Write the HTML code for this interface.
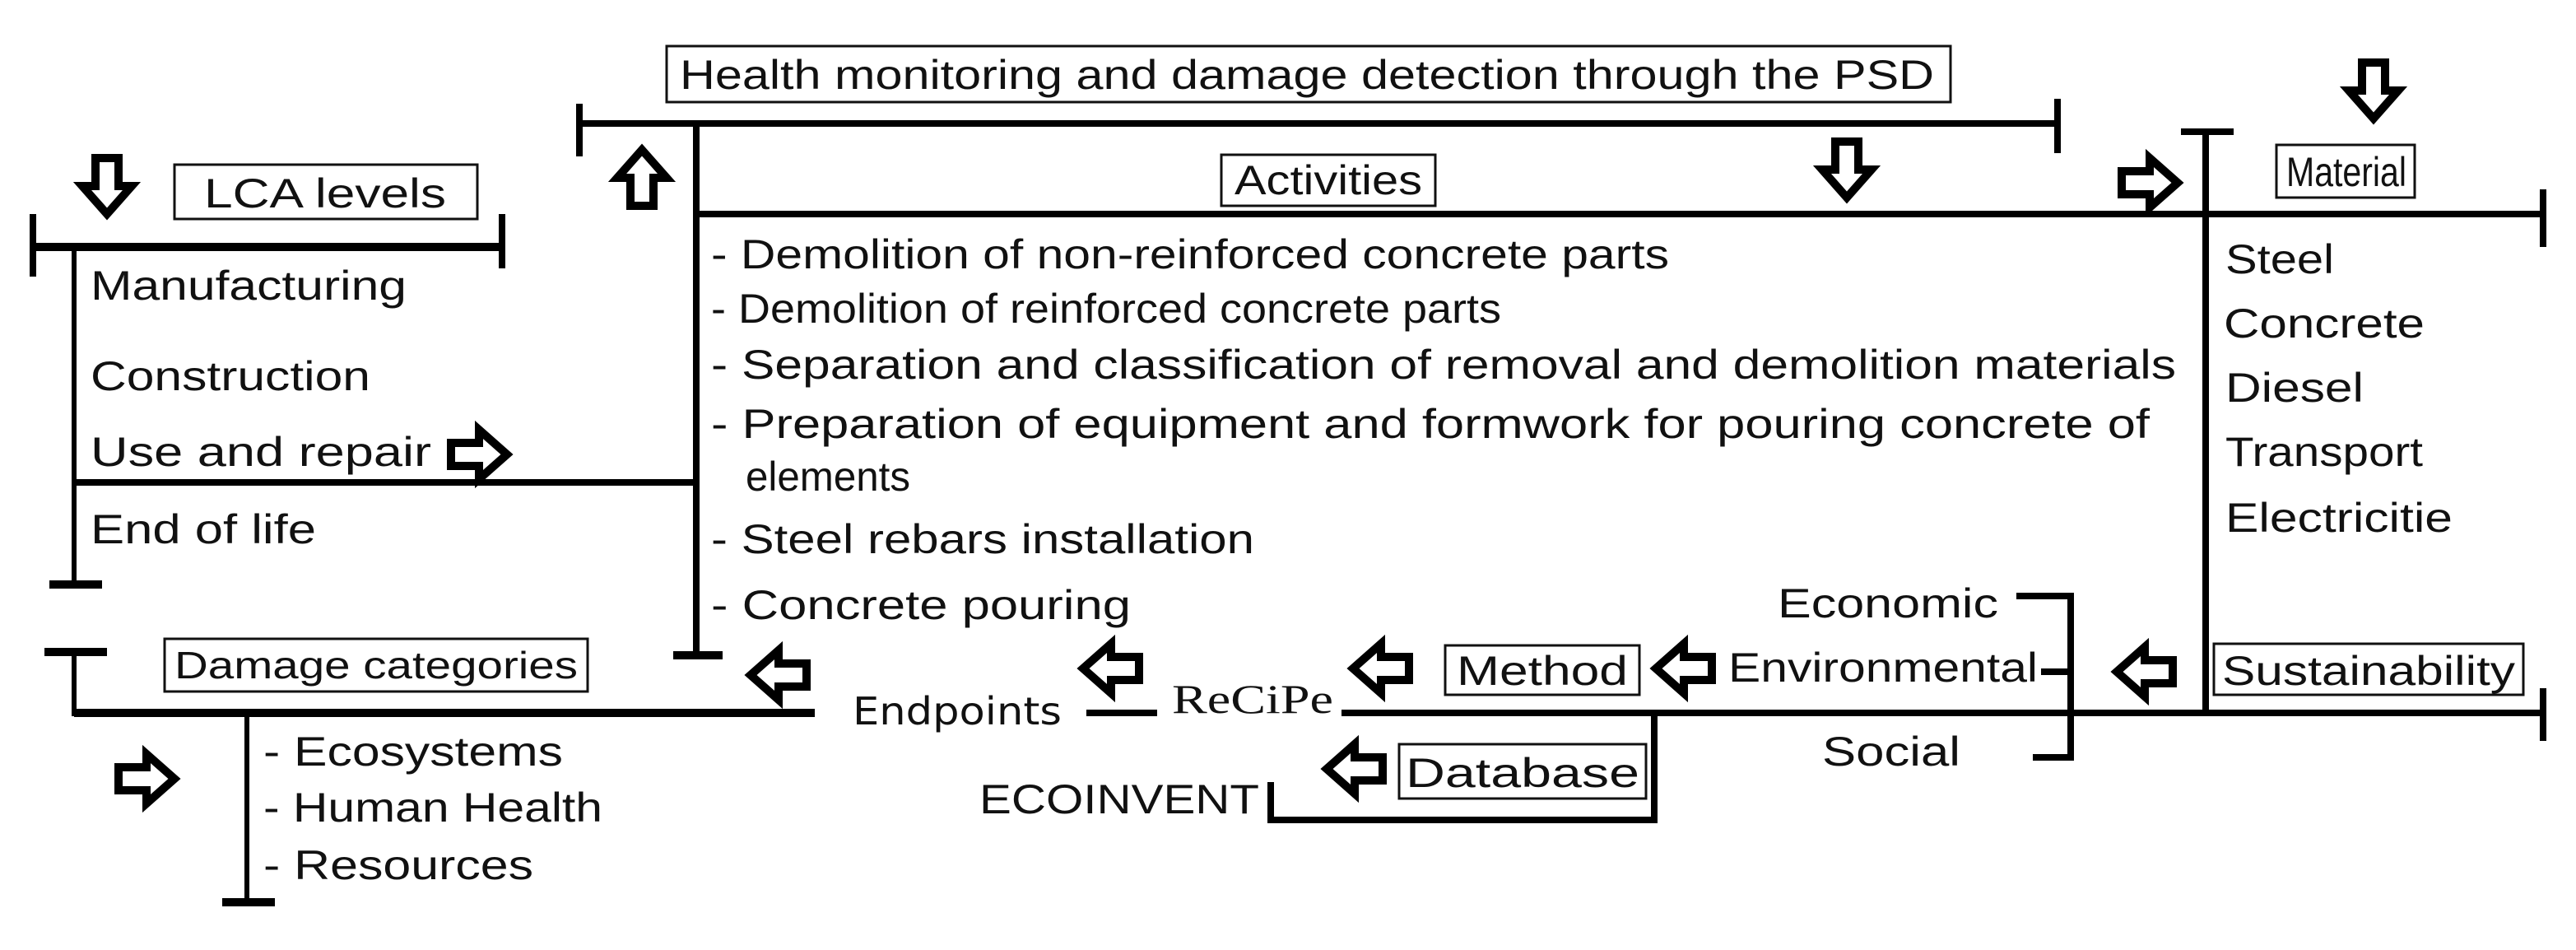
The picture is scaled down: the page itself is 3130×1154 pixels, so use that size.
<!DOCTYPE html>
<html><head><meta charset="utf-8"><style>
html,body{margin:0;padding:0;background:#fff}
svg{display:block}
</style></head><body>
<svg width="3130" height="1154" viewBox="0 0 1565 577" xmlns="http://www.w3.org/2000/svg">
<defs>
<path id="ar" d="M0,-7 H17 V-15 L34,0 L17,15 V7 H0 Z" fill="#fff" stroke="#000" stroke-width="5" stroke-linejoin="miter"/>
</defs>
<g stroke="#000" fill="none" stroke-linecap="butt">
<line x1="352" y1="75" x2="1250" y2="75" stroke-width="4"/>
<line x1="352" y1="63" x2="352" y2="95" stroke-width="4"/>
<line x1="1250" y1="60" x2="1250" y2="93" stroke-width="4"/>
<line x1="423" y1="75" x2="423" y2="398" stroke-width="4"/>
<line x1="409" y1="398" x2="439" y2="398" stroke-width="5"/>
<line x1="423" y1="130" x2="1340" y2="130" stroke-width="4"/>
<line x1="1340" y1="80" x2="1340" y2="433" stroke-width="4"/>
<line x1="1325" y1="80" x2="1357" y2="80" stroke-width="4"/>
<line x1="1340" y1="130" x2="1545" y2="130" stroke-width="4"/>
<line x1="1545" y1="115" x2="1545" y2="150" stroke-width="4"/>
<line x1="20" y1="150" x2="305" y2="150" stroke-width="5"/>
<line x1="20" y1="130" x2="20" y2="168" stroke-width="4"/>
<line x1="305" y1="130" x2="305" y2="163" stroke-width="4"/>
<line x1="45" y1="150" x2="45" y2="355" stroke-width="3"/>
<line x1="30" y1="355" x2="62" y2="355" stroke-width="5"/>
<line x1="45" y1="293" x2="423" y2="293" stroke-width="4"/>
<line x1="27" y1="396" x2="65" y2="396" stroke-width="5"/>
<line x1="45" y1="396" x2="45" y2="435" stroke-width="3"/>
<line x1="45" y1="433" x2="495" y2="433" stroke-width="5"/>
<line x1="150" y1="433" x2="150" y2="548" stroke-width="3"/>
<line x1="135" y1="548" x2="167" y2="548" stroke-width="5"/>
<line x1="660" y1="433" x2="703" y2="433" stroke-width="4"/>
<line x1="815" y1="433" x2="1545" y2="433" stroke-width="4"/>
<line x1="1545" y1="418" x2="1545" y2="450" stroke-width="4"/>
<polyline points="1225,362 1258,362 1258,460 1235,460" stroke-width="4"/>
<line x1="1240" y1="408" x2="1258" y2="408" stroke-width="4"/>
<polyline points="1005,433 1005,498 772,498 772,475" stroke-width="4"/>
</g>
<g fill="#fff" stroke="#111" stroke-width="1.5">
<rect x="405" y="28" width="780" height="34"/>
<rect x="742" y="94" width="130" height="31"/>
<rect x="1383" y="88" width="84" height="32"/>
<rect x="106" y="100" width="184" height="33"/>
<rect x="100" y="388" width="257" height="32"/>
<rect x="878" y="392" width="118" height="30"/>
<rect x="1345" y="391" width="188" height="31"/>
<rect x="850" y="452" width="150" height="33"/>
</g>
<use href="#ar" transform="translate(390,125) rotate(-90)"/>
<use href="#ar" transform="translate(1122,86) rotate(90)"/>
<use href="#ar" transform="translate(1289,111)"/>
<use href="#ar" transform="translate(1442,38) rotate(90)"/>
<use href="#ar" transform="translate(65,96) rotate(90)"/>
<use href="#ar" transform="translate(274,276)"/>
<use href="#ar" transform="translate(490,410) rotate(180)"/>
<use href="#ar" transform="translate(692,406) rotate(180)"/>
<use href="#ar" transform="translate(856,406) rotate(180)"/>
<use href="#ar" transform="translate(1040,406) rotate(180)"/>
<use href="#ar" transform="translate(1320,408) rotate(180)"/>
<use href="#ar" transform="translate(840,467) rotate(180)"/>
<use href="#ar" transform="translate(72,473)"/>
<g font-size="25" font-family="Liberation Sans, Arial, sans-serif" fill="#111">
<text x="413" y="54" textLength="762" lengthAdjust="spacingAndGlyphs">Health monitoring and damage detection through the PSD</text>
<text x="750" y="118" textLength="114" lengthAdjust="spacingAndGlyphs">Activities</text>
<text x="1389" y="113" textLength="73" lengthAdjust="spacingAndGlyphs">Material</text>
<text x="124" y="126" textLength="147" lengthAdjust="spacingAndGlyphs">LCA levels</text>
<text x="106" y="412" textLength="245" lengthAdjust="spacingAndGlyphs" font-size="23">Damage categories</text>
<text x="885" y="416" textLength="104" lengthAdjust="spacingAndGlyphs">Method</text>
<text x="1350" y="416" textLength="178" lengthAdjust="spacingAndGlyphs">Sustainability</text>
<text x="854" y="478" textLength="142" lengthAdjust="spacingAndGlyphs">Database</text>
<text x="55" y="182" textLength="192" lengthAdjust="spacingAndGlyphs">Manufacturing</text>
<text x="55" y="237" textLength="170" lengthAdjust="spacingAndGlyphs">Construction</text>
<text x="55" y="283" textLength="207" lengthAdjust="spacingAndGlyphs">Use and repair</text>
<text x="55" y="330" textLength="137" lengthAdjust="spacingAndGlyphs">End of life</text>
<text x="432" y="163" textLength="582" lengthAdjust="spacingAndGlyphs">- Demolition of non-reinforced concrete parts</text>
<text x="432" y="196" textLength="480" lengthAdjust="spacingAndGlyphs">- Demolition of reinforced concrete parts</text>
<text x="432" y="230" textLength="890" lengthAdjust="spacingAndGlyphs">- Separation and classification of removal and demolition materials</text>
<text x="432" y="266" textLength="874" lengthAdjust="spacingAndGlyphs">- Preparation of equipment and formwork for pouring concrete of</text>
<text x="453" y="298" textLength="100" lengthAdjust="spacingAndGlyphs">elements</text>
<text x="432" y="336" textLength="330" lengthAdjust="spacingAndGlyphs">- Steel rebars installation</text>
<text x="432" y="376" textLength="255" lengthAdjust="spacingAndGlyphs">- Concrete pouring</text>
<text x="1352" y="166" textLength="66" lengthAdjust="spacingAndGlyphs">Steel</text>
<text x="1351" y="205" textLength="122" lengthAdjust="spacingAndGlyphs">Concrete</text>
<text x="1352" y="244" textLength="84" lengthAdjust="spacingAndGlyphs">Diesel</text>
<text x="1352" y="283" textLength="120" lengthAdjust="spacingAndGlyphs">Transport</text>
<text x="1352" y="323" textLength="138" lengthAdjust="spacingAndGlyphs">Electricitie</text>
<text x="1080" y="375" textLength="134" lengthAdjust="spacingAndGlyphs">Economic</text>
<text x="1050" y="414" textLength="188" lengthAdjust="spacingAndGlyphs">Environmental</text>
<text x="1107" y="465" textLength="84" lengthAdjust="spacingAndGlyphs">Social</text>
<text x="160" y="465" textLength="182" lengthAdjust="spacingAndGlyphs">- Ecosystems</text>
<text x="160" y="499" textLength="206" lengthAdjust="spacingAndGlyphs">- Human Health</text>
<text x="160" y="534" textLength="164" lengthAdjust="spacingAndGlyphs">- Resources</text>
<text x="518" y="440" textLength="127" lengthAdjust="spacingAndGlyphs" font-family="DejaVu Sans, sans-serif" font-size="23">Endpoints</text>
<text x="712" y="433" textLength="98" lengthAdjust="spacingAndGlyphs" font-family="Liberation Serif, serif">ReCiPe</text>
<text x="595" y="494" textLength="170" lengthAdjust="spacingAndGlyphs">ECOINVENT</text>
</g>
</svg>
</body></html>
